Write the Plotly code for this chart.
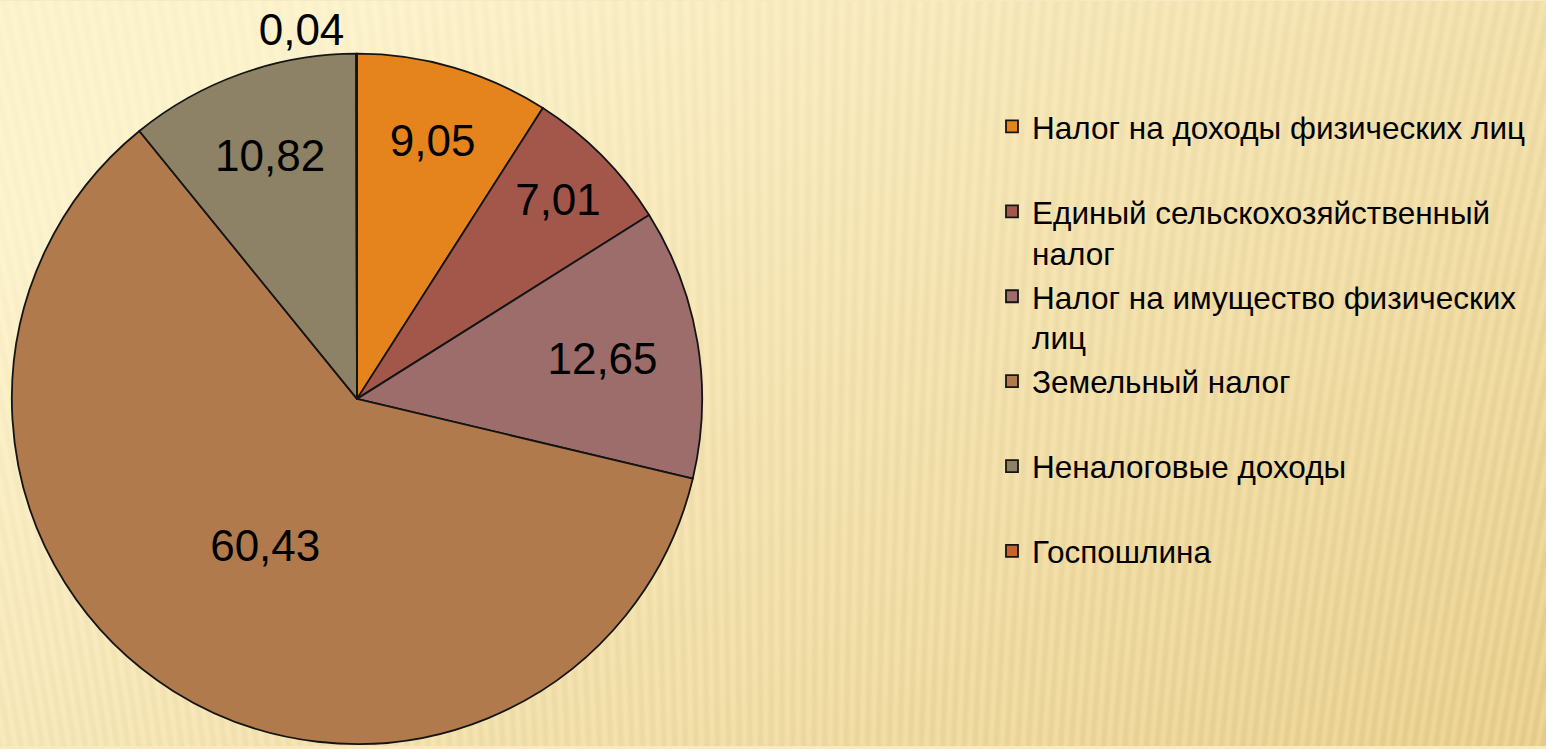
import base64, struct, zlib
import numpy as np
import plotly.graph_objects as go

# ---- data ----
categories = [
    "Налог на доходы физических лиц",
    "Единый сельскохозяйственный<br>налог",
    "Налог на имущество физических<br>лиц",
    "Земельный налог",
    "Неналоговые доходы",
    "Госпошлина",
]
values = [9.05, 7.01, 12.65, 60.43, 10.82, 0.04]
colors = ["#E5841C", "#A2574A", "#9C6D6A", "#B07A4C", "#8D8265", "#C9632C"]
text_positions = ["inside", "inside", "inside", "inside", "inside", "outside"]

# legend labels padded to two lines so items are evenly spaced
legend_labels = [c if "<br>" in c else c + "<br> " for c in categories]

FONT = "Liberation Sans, Arial, sans-serif"

# ---- background texture (generated PNG) ----
W, H = 1546, 749
yy, xx = np.mgrid[0:H, 0:W].astype(float)
t = np.clip(0.65 * xx / W + 0.45 * yy / H - 0.15, 0, 1)
light = np.array([252, 242, 204], float)
dark = np.array([232, 206, 140], float)
img = light[None, None, :] * (1 - t[..., None]) + dark[None, None, :] * t[..., None]
phase = xx + 0.22 * yy * (xx - W / 2) / (W / 2)
stripe = np.sin(2 * np.pi * phase / 13.0)
img -= (stripe[..., None] * 4.0 * (0.5 + t[..., None]))
img = np.clip(img, 0, 255).astype(np.uint8)
raw = b"".join(b"\x00" + img[r].tobytes() for r in range(H))


def chunk(tag, data):
    return struct.pack(">I", len(data)) + tag + data + struct.pack(">I", zlib.crc32(tag + data) & 0xFFFFFFFF)


png = b"\x89PNG\r\n\x1a\n" + chunk(b"IHDR", struct.pack(">IIBBBBB", W, H, 8, 2, 0, 0, 0)) \
    + chunk(b"IDAT", zlib.compress(raw, 9)) + chunk(b"IEND", b"")
bg_src = "data:image/png;base64," + base64.b64encode(png).decode()

fig = go.Figure(
    go.Pie(
        labels=legend_labels,
        values=values,
        sort=False,
        direction="clockwise",
        rotation=0,
        marker=dict(colors=colors, line=dict(color="#141414", width=1.8)),
        texttemplate="%{value:.2f}",
        textposition=text_positions,
        insidetextorientation="horizontal",
        textfont=dict(family=FONT, size=44, color="black"),
        domain=dict(x=[10 / W, 704 / W], y=[2 / H, 696 / H]),
        hoverinfo="label+value",
    )
)

fig.update_layout(
    width=W,
    height=H,
    margin=dict(l=0, r=0, t=0, b=0),
    separators=", ",
    paper_bgcolor="#F8EAC0",
    plot_bgcolor="rgba(0,0,0,0)",
    font=dict(family=FONT, color="black"),
    legend=dict(
        x=992 / W,
        y=1 - 99 / H,
        xanchor="left",
        yanchor="top",
        valign="top",
        font=dict(family=FONT, size=31.5, color="black"),
        bgcolor="rgba(0,0,0,0)",
        traceorder="normal",
    ),
    images=[dict(source=bg_src, xref="paper", yref="paper", x=0, y=1, sizex=1, sizey=1,
                 sizing="stretch", layer="below", xanchor="left", yanchor="top")],
)

fig.write_html(
    "out.html",
    config={"displayModeBar": False},
    post_script="document.body.style.margin='0';document.body.style.overflow='hidden';",
)
